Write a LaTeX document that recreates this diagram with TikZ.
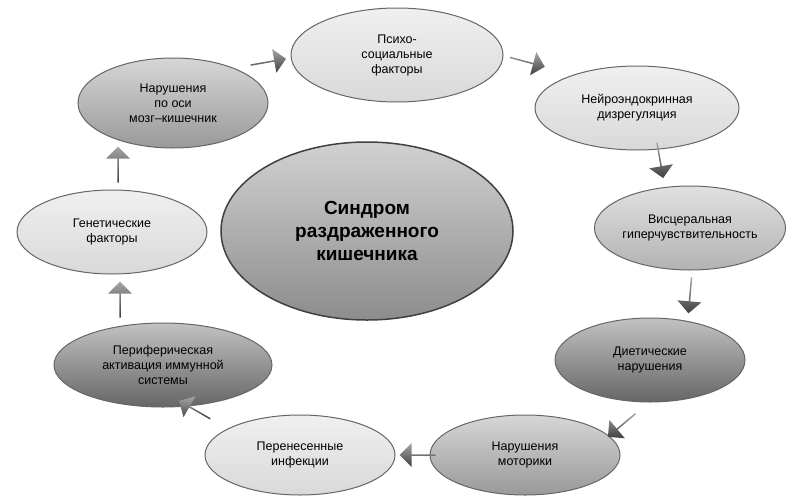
\documentclass[tikz,border=0pt]{standalone}
\usepackage{fontspec}
\setmainfont{Liberation Sans}
\usetikzlibrary{shapes.arrows,shapes.geometric}
\begin{document}
\begin{tikzpicture}[x=1pt,y=-1pt,
  el/.style={ellipse,draw=black!60,line width=1pt,top color=black!#1!white!40!white,bottom color=black!#1,align=center,font=\fontsize{12.5}{15}\selectfont,inner sep=0pt},
  ar/.style={single arrow,draw=none,top color=gray!70,bottom color=black!75,minimum height=36pt,minimum width=24pt,single arrow head extend=3pt,inner sep=0pt}]
\useasboundingbox (0,0) rectangle (800,501);
\node[el=45,minimum width=292pt,minimum height=178pt,font=\bfseries\fontsize{19}{23}\selectfont,draw=black!75,line width=1.5pt] (c) at (367,231) {Синдром\\раздраженного\\кишечника};
\node[el=15,minimum width=212pt,minimum height=94pt] (a) at (397,55) {Психо-\\социальные\\факторы};
\node[el=15,minimum width=204pt,minimum height=84pt] (b) at (637,108) {Нейроэндокринная\\дизрегуляция};
\node[el=30,minimum width=190pt,minimum height=84pt] (d) at (690,228) {Висцеральная\\гиперчувствительность};
\node[el=60,minimum width=190pt,minimum height=84pt] (e) at (650,360) {Диетические\\нарушения};
\node[el=40,minimum width=190pt,minimum height=80pt] (f) at (525,455) {Нарушения\\моторики};
\node[el=15,minimum width=190pt,minimum height=80pt] (g) at (300,455) {Перенесенные\\инфекции};
\node[el=60,minimum width=218pt,minimum height=84pt] (h) at (163,365) {Периферическая\\активация иммунной\\системы};
\node[el=15,minimum width=190pt,minimum height=84pt] (i) at (112,232) {Генетические\\факторы};
\node[el=40,minimum width=190pt,minimum height=90pt] (j) at (173,103) {Нарушения\\по оси\\мозг–кишечник};
\node[ar,rotate=10] (r1) at (268,62) {};
\node[ar,rotate=-15] (r2) at (527,62) {};
\node[ar,rotate=-80] (r3) at (660,160) {};
\node[ar,rotate=-95] (r4) at (690,295) {};
\node[ar,rotate=-140] (r5) at (622,425) {};
\node[ar,rotate=180] (r6) at (418,455) {};
\node[ar,rotate=150] (r7) at (195,410) {};
\node[ar,rotate=90] (r8) at (120,300) {};
\node[ar,rotate=90] (r9) at (118,165) {};
\end{tikzpicture}
\end{document}
